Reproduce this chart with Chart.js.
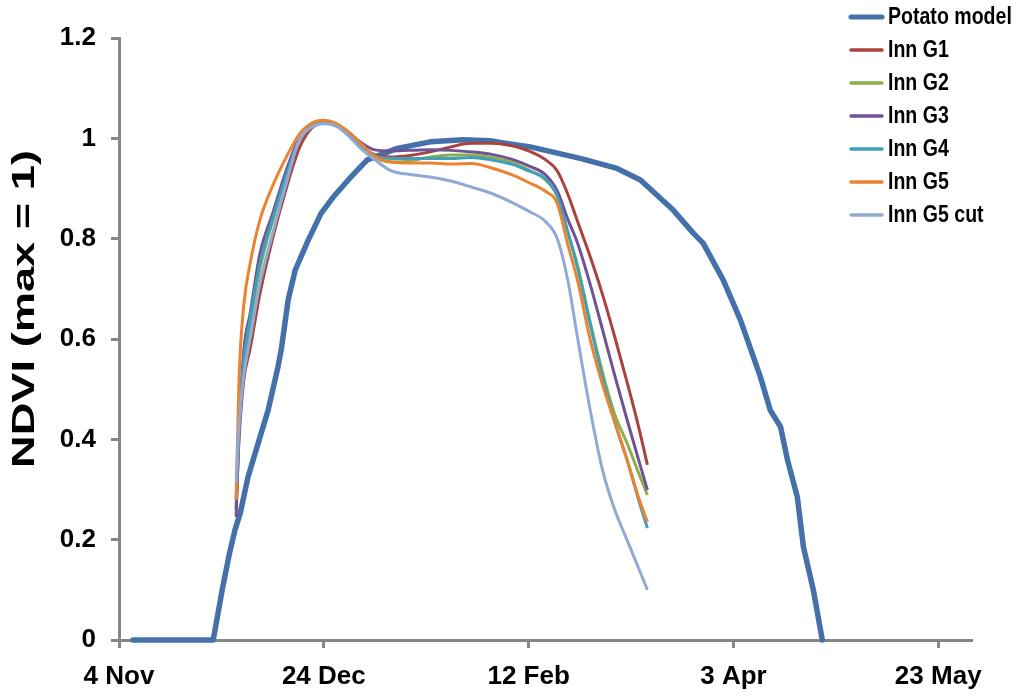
<!DOCTYPE html>
<html><head><meta charset="utf-8">
<script src="https://cdn.jsdelivr.net/npm/chart.js@4.4.1/dist/chart.umd.min.js"></script>
<style>html,body{margin:0;padding:0;background:#fff;}#wrap{width:1019px;height:696px;position:relative;}</style>
</head><body><div id="wrap"><canvas id="c" width="1019" height="696"></canvas></div>
<script>
// ---- data (x = days after 4 Nov) ----
const xTickDays = [0, 50, 100, 150, 200];
const xTickLabels = ['4 Nov', '24 Dec', '12 Feb', '3 Apr', '23 May'];
const yTickValues = [0, 0.2, 0.4, 0.6, 0.8, 1, 1.2];
const yTickLabels = ['0', '0.2', '0.4', '0.6', '0.8', '1', '1.2'];
const yTitle = 'NDVI (max = 1)';
const seriesNames = ['Potato model', 'Inn G1', 'Inn G2', 'Inn G3', 'Inn G4', 'Inn G5', 'Inn G5 cut'];
const seriesColors = ['#4471AA', '#AA423E', '#8DAF4B', '#6F5396', '#3FA0BA', '#EB8430', '#90AAD4'];

const potatoDays = [3.4, 23, 25.2, 26.9, 28.3, 29.6, 31.5, 34, 36.4, 38.8, 39.6, 41.3, 43, 46.2, 49.3, 52.3, 56.4, 60.6, 67.9, 76, 84, 90.6, 93.8, 100.4, 112.6, 121.6, 127.3, 135.3, 140.2, 142.6, 147.5, 151.7, 154.9, 156.6, 159, 161.5, 163.2, 165.6, 167.1, 169.5, 171.7];
const potatoNdvi = [0, 0, 0.1, 0.17, 0.219, 0.253, 0.325, 0.393, 0.458, 0.544, 0.578, 0.678, 0.737, 0.797, 0.85, 0.883, 0.921, 0.957, 0.98, 0.993, 0.997, 0.995, 0.991, 0.983, 0.96, 0.94, 0.917, 0.857, 0.811, 0.791, 0.718, 0.638, 0.564, 0.524, 0.458, 0.425, 0.359, 0.285, 0.185, 0.1, 0];

const innDays = [28.6, 29.3, 30.5, 32, 34.4, 37.5, 41, 44, 47, 50, 53, 56, 59, 62.5, 66.5, 71, 76, 81, 86, 91, 96, 100, 104, 107, 109.5, 112, 115, 118, 121, 124, 127, 129];
const innG1 = [0.26, 0.40, 0.52, 0.58, 0.69, 0.80, 0.905, 0.98, 1.02, 1.03, 1.025, 1.008, 0.985, 0.967, 0.963, 0.966, 0.973, 0.983, 0.99, 0.99, 0.985, 0.975, 0.958, 0.935, 0.89, 0.833, 0.765, 0.69, 0.605, 0.515, 0.42, 0.349];
const innG2 = [0.27, 0.42, 0.55, 0.63, 0.74, 0.835, 0.93, 0.995, 1.025, 1.032, 1.027, 1.008, 0.985, 0.962, 0.953, 0.955, 0.963, 0.967, 0.967, 0.962, 0.952, 0.937, 0.918, 0.885, 0.815, 0.745, 0.635, 0.535, 0.45, 0.393, 0.33, 0.289];
const innG3 = [0.245, 0.42, 0.58, 0.65, 0.77, 0.85, 0.94, 1.0, 1.027, 1.033, 1.028, 1.012, 0.992, 0.977, 0.975, 0.976, 0.977, 0.976, 0.973, 0.968, 0.958, 0.945, 0.928, 0.895, 0.84, 0.79, 0.71, 0.62, 0.528, 0.44, 0.355, 0.299];
const innG4 = [0.28, 0.43, 0.56, 0.64, 0.75, 0.84, 0.93, 0.997, 1.026, 1.032, 1.027, 1.01, 0.985, 0.965, 0.96, 0.96, 0.96, 0.96, 0.962, 0.957, 0.948, 0.935, 0.92, 0.885, 0.815, 0.74, 0.63, 0.525, 0.435, 0.36, 0.275, 0.223];
const innG5 = [0.28, 0.52, 0.67, 0.75, 0.837, 0.905, 0.965, 1.008, 1.03, 1.036, 1.03, 1.013, 0.99, 0.963, 0.953, 0.951, 0.951, 0.949, 0.95, 0.941, 0.927, 0.912, 0.895, 0.87, 0.79, 0.715, 0.60, 0.51, 0.435, 0.36, 0.28, 0.235];
const innG5cut = [0.315, 0.43, 0.53, 0.60, 0.71, 0.81, 0.915, 0.997, 1.022, 1.029, 1.025, 1.005, 0.98, 0.957, 0.935, 0.928, 0.923, 0.915, 0.903, 0.89, 0.872, 0.855, 0.835, 0.80, 0.72, 0.60, 0.46, 0.34, 0.26, 0.2, 0.14, 0.1];

// ---- build ----
const toPts = (xs, ys) => xs.map((x, i) => ({ x: x, y: ys[i] }));
const innSeries = [innG1, innG2, innG3, innG4, innG5, innG5cut];
const datasets = [{
  label: seriesNames[0], data: toPts(potatoDays, potatoNdvi), borderColor: seriesColors[0],
  borderWidth: 5.5, tension: 0, pointRadius: 0, borderCapStyle: 'round', borderJoinStyle: 'round',
  order: 7, clip: false
}];
innSeries.forEach((s, i) => datasets.push({
  label: seriesNames[i + 1], data: toPts(innDays, s), borderColor: seriesColors[i + 1],
  borderWidth: 3, cubicInterpolationMode: 'monotone', pointRadius: 0, borderCapStyle: 'butt',
  borderJoinStyle: 'round', order: 6 - i, clip: false
}));

const tickFont = { family: "'Liberation Sans', Arial, sans-serif", size: 26, weight: 'bold' };
const axisGrey = '#868686';

const customDraw = {
  id: 'customDraw',
  beforeDraw(chart) {
    const ctx = chart.ctx;
    ctx.save(); ctx.fillStyle = '#fff'; ctx.fillRect(0, 0, chart.width, chart.height); ctx.restore();
  },
  afterDraw(chart) {
    const ctx = chart.ctx;
    // y-axis title (condensed, as in the reference image)
    ctx.save();
    ctx.translate(25, 309);
    ctx.scale(0.76, 1);
    ctx.rotate(-Math.PI / 2);
    ctx.font = "bold 42px 'Liberation Sans', Arial, sans-serif";
    const w = ctx.measureText(yTitle).width;
    ctx.scale(318 / w, 1);
    ctx.fillStyle = '#000';
    ctx.textAlign = 'center';
    ctx.textBaseline = 'middle';
    ctx.fillText(yTitle, 0, 0);
    ctx.restore();
    // legend
    chart.data.datasets.forEach((ds, i) => {
      const y = 17 + i * 33;
      ctx.save();
      ctx.strokeStyle = ds.borderColor;
      ctx.lineWidth = i === 0 ? 5 : 3.5;
      ctx.lineCap = 'round';
      ctx.beginPath(); ctx.moveTo(851, y); ctx.lineTo(882, y); ctx.stroke();
      ctx.translate(888, y + 1);
      ctx.scale(0.85, 1);
      ctx.font = "bold 23px 'Liberation Sans', Arial, sans-serif";
      ctx.textBaseline = 'middle';
      ctx.textAlign = 'left';
      ctx.fillStyle = '#000';
      ctx.fillText(ds.label, 0, 0);
      ctx.restore();
    });
  }
};

new Chart(document.getElementById('c'), {
  type: 'line',
  data: { datasets: datasets },
  options: {
    responsive: false, animation: false, devicePixelRatio: 1,
    layout: { padding: { top: 38, right: 48, left: 0, bottom: 0 } },
    plugins: { legend: { display: false }, tooltip: { enabled: false } },
    scales: {
      x: {
        type: 'linear', min: 0, max: 208,
        border: { display: true, color: axisGrey, width: 3 },
        grid: { display: true, drawOnChartArea: false, drawTicks: true, tickLength: 8, color: axisGrey, lineWidth: 3 },
        afterBuildTicks(scale) { scale.ticks = xTickDays.map(v => ({ value: v })); },
        ticks: { autoSkip: false, maxRotation: 0, color: '#000', font: tickFont, padding: 13,
          callback: (v, i) => xTickLabels[i] },
        afterFit(scale) { scale.height = 56; }
      },
      y: {
        type: 'linear', min: 0, max: 1.2,
        border: { display: true, color: axisGrey, width: 3 },
        grid: { display: true, drawOnChartArea: false, drawTicks: true, tickLength: 8, color: axisGrey, lineWidth: 3 },
        afterBuildTicks(scale) { scale.ticks = yTickValues.map(v => ({ value: v })); },
        ticks: { color: '#000', font: tickFont, padding: 15, callback: (v, i) => yTickLabels[i] },
        afterFit(scale) { scale.width = 119; }
      }
    }
  },
  plugins: [customDraw]
});
</script>
</body></html>
